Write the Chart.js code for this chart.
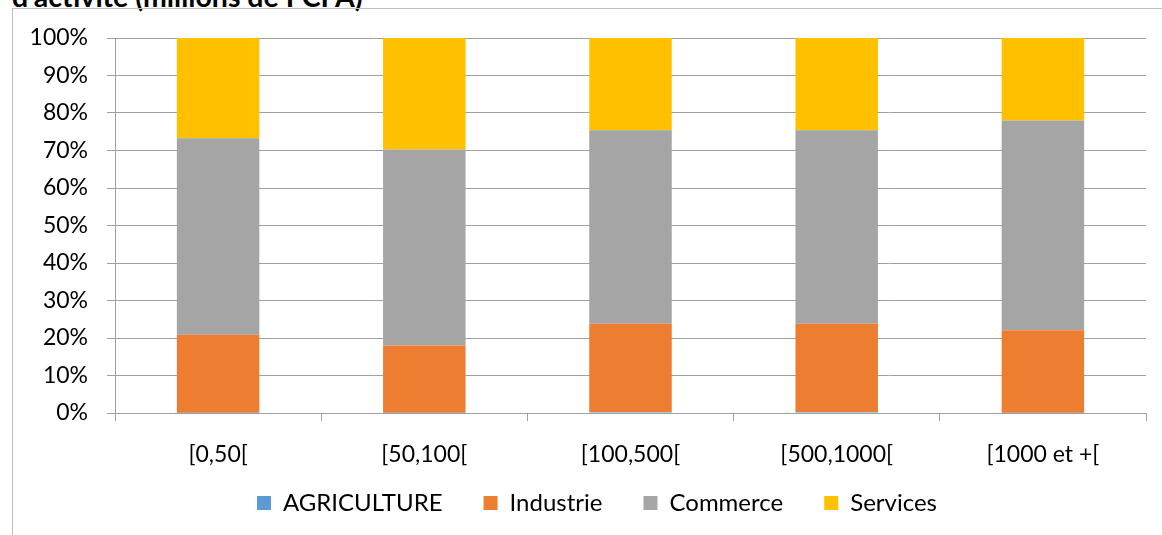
<!DOCTYPE html>
<html>
<head>
<meta charset="utf-8">
<script src="https://cdn.jsdelivr.net/npm/chart.js@4/dist/chart.umd.min.js"></script>
<style>
    html, body { margin: 0; padding: 0; background: #fff; overflow: hidden; }
    body { width: 1162px; height: 535px; position: relative; }
    #titre {
        position: absolute; left: 12px; top: -18px;
        font: bold 28.5px Lato, "Liberation Sans", sans-serif; line-height: 28px;
        color: #000; white-space: nowrap;
    }
    #cadre {
        position: absolute; left: 12px; top: 8px; width: 1200px; height: 600px;
        border-left: 1px solid #bfbfbf; border-top: 1px solid #bfbfbf;
    }
    #zone { position: absolute; left: 0; top: 0; width: 1162px; height: 535px; overflow: hidden; }
</style>
</head>
<body>
<div id="titre">d'activité (millions de FCFA)</div>
<div id="cadre"></div>
<div id="zone"><canvas id="graphe" width="1162" height="560"></canvas></div>
<script>
// Tranches de chiffre d'affaires et répartition par secteur (en %)
const tranches = ['[0,50[', '[50,100[', '[100,500[', '[500,1000[', '[1000 et +['];
const agriculture = [0.1, 0.1, 0.3, 0.3, 0.1];
const industrie = [20.8, 17.9, 23.5, 23.5, 22.0];
const commerce = [52.4, 52.3, 51.6, 51.6, 55.9];
const services = [26.7, 29.7, 24.6, 24.6, 22.0];
const graduations = [0, 10, 20, 30, 40, 50, 60, 70, 80, 90, 100];

const police = 'Lato, "Liberation Sans", sans-serif';
const gris = '#a0a0a0';

function serie(nom, valeurs, couleur) {
    return {
        label: nom,
        data: valeurs,
        backgroundColor: couleur,
        borderWidth: 0,
        categoryPercentage: 1,
        barPercentage: 0.4
    };
}

// remonte la légende sous les étiquettes de l'axe x et la décale un peu à droite
const placeLegende = {
    id: 'placeLegende',
    afterLayout(chart) {
        const leg = chart.legend;
        leg.top -= 23;
        leg.bottom -= 23;
        leg.left += 24;
        leg.right += 24;
    }
};

const ctx = document.getElementById('graphe').getContext('2d');
const graphe = new Chart(ctx, {
    type: 'bar',
    data: {
        labels: tranches,
        datasets: [
            serie('AGRICULTURE', agriculture, '#5b9bd5'),
            serie('Industrie', industrie, '#ed7d31'),
            serie('Commerce', commerce, '#a5a5a5'),
            serie('Services', services, '#ffc000')
        ]
    },
    plugins: [placeLegende],
    options: {
        responsive: false,
        animation: false,
        layout: { padding: { top: 38, right: 16, left: 0, bottom: 12 } },
        plugins: {
            tooltip: { enabled: false },
            legend: {
                position: 'bottom',
                labels: {
                    boxWidth: 14,
                    boxHeight: 14,
                    padding: 41,
                    color: '#000',
                    font: { family: police, size: 24 }
                }
            }
        },
        scales: {
            x: {
                stacked: true,
                afterFit: function (scale) { scale.height = 60; },
                grid: {
                    offset: true,
                    drawOnChartArea: false,
                    drawTicks: true,
                    tickLength: 8,
                    color: gris
                },
                border: { color: gris },
                ticks: {
                    padding: 20,
                    color: '#000',
                    font: { family: police, size: 23 }
                }
            },
            y: {
                stacked: true,
                min: 0,
                max: 100,
                afterFit: function (scale) { scale.width = 115; },
                afterBuildTicks: function (scale) {
                    scale.ticks = graduations.map(v => ({ value: v }));
                },
                grid: { color: gris, tickLength: 8 },
                border: { color: gris },
                ticks: {
                    padding: 19,
                    color: '#000',
                    font: { family: police, size: 23 },
                    callback: v => v + '%'
                }
            }
        }
    }
});
</script>
</body>
</html>
